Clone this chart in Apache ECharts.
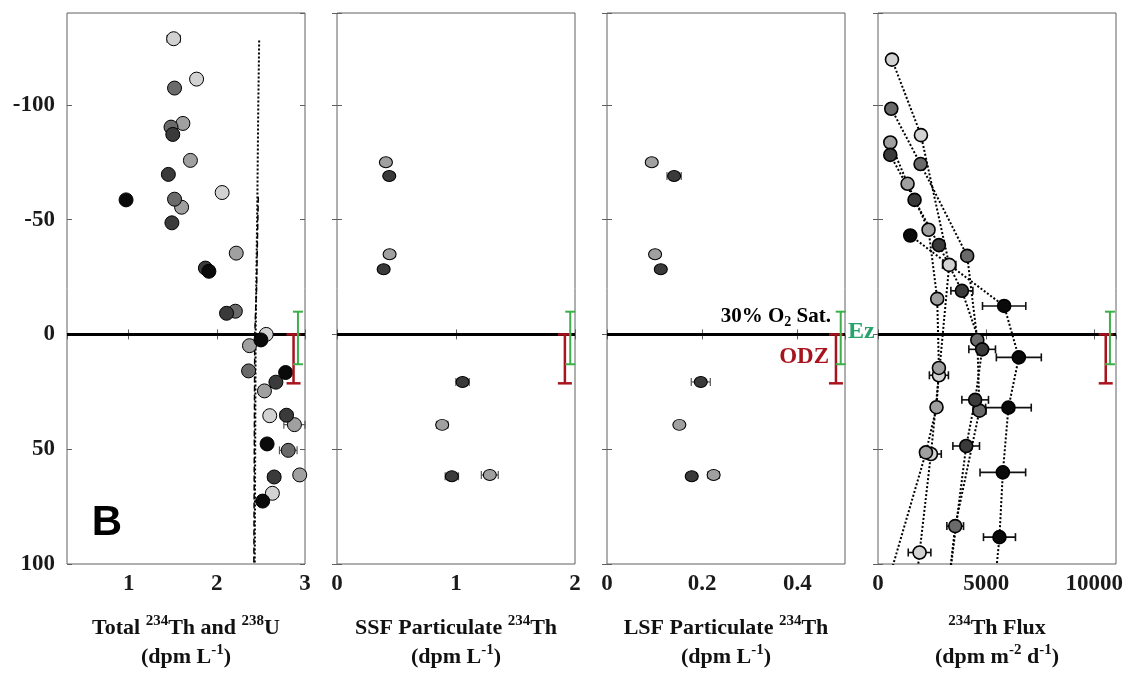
<!DOCTYPE html>
<html>
<head>
<meta charset="utf-8">
<script src="https://cdn.jsdelivr.net/npm/echarts@6/dist/echarts.min.js"></script>
<style>
  html, body { margin: 0; padding: 0; background: #fff; }
  #chart { width: 1128px; height: 674px; }
</style>
</head>
<body>
<div id="chart"></div>
<script>
    // values: [x, depth (m), error]
    var totBlack = [[0.97,-58.6,0.03],[1.91,-27.5,0.04],[2.50,2.4,0.03],[2.78,16.6,0.05],[2.57,47.7,0.06],[2.52,72.6,0.05]];
    var totDark = [[1.50,-87.1,0.05],[1.45,-69.7,0.04],[1.49,-48.6,0.04],[1.87,-28.9,0.05],[2.11,-9.2,0.05],[2.67,20.8,0.06],[2.79,35.2,0.07],[2.65,62.1,0.07]];
    var totMidDark = [[1.52,-107.3,0.05],[1.48,-90.3,0.05],[1.52,-58.9,0.05],[2.21,-10.1,0.06],[2.36,15.9,0.06],[2.81,50.5,0.1]];
    var totMid = [[1.615,-91.9,0.06],[1.70,-75.8,0.05],[1.60,-55.4,0.05],[2.22,-35.4,0.06],[2.37,4.9,0.06],[2.54,24.6,0.066],[2.88,39.3,0.12],[2.94,61.2,0.066]];
    var totLight = [[1.51,-128.8,0.075],[1.77,-111.2,0.06],[2.06,-61.8,0.06],[2.56,0.0,0.05],[2.60,35.4,0.062],[2.63,69.2,0.066]];
    var uLineA = [[2.48,-128],[2.47,-100],[2.46,-60],[2.44,0],[2.43,100]];
    var uLineB = [[2.47,-60],[2.45,-20],[2.43,0],[2.42,100]];

    var ssfDark = [[0.439,-69.0,0.02],[0.392,-28.4,0.02],[1.055,20.7,0.056],[0.965,61.8,0.056]];
    var ssfMid = [[0.411,-75.0,0.02],[0.442,-34.9,0.025],[0.884,39.4,0.048],[1.284,61.2,0.071]];

    var lsfDark = [[0.141,-69.0,0.015],[0.113,-28.4,0.007],[0.197,20.7,0.02],[0.178,61.8,0.01]];
    var lsfMid = [[0.094,-75.0,0.007],[0.101,-34.9,0.008],[0.152,39.4,0.01],[0.224,61.2,0.012]];

    var fluxBlack = [[1491,-43.1,120],[5830,-12.4,1000],[6509,10,1039],[6029,31.9,1054],[5770,60.1,1054],[5614,88.3,739]];
    var fluxDark = [[568,-78.2,60],[1690,-58.6,80],[2816,-38.9,100],[3877,-19.0,508],[4814,6.5,615],[4491,28.5,615],[4076,48.6,615]];
    var fluxMidDark = [[614,-98.3,50],[1967,-74.2,80],[4122,-34.2,185],[4590,2.4,200],[4690,33.2,300],[3568,83.5,385]];
    var fluxMid = [[568,-83.6,50],[1367,-65.6,60],[2336,-45.6,80],[2737,-15.5,100],[2815,14.6,150],[2705,31.7,180],[2215,51.4,250]];
    var fluxLight = [[646,-119.7,60],[1985,-86.8,80],[3291,-30.3,308],[2815,17.8,440],[2446,52.1,478],[1921,95,523]];
    // profile lines continue below the plotted depth range
    var fluxTails = [[5390,110],[3250,110],[3250,110],[400,110],[1740,110]];

    // ODZ and Ez depth ranges: [x, top, bottom]
    var odzBars = [[2.87,0,21.3],[1.915,0,21.3],[0.481,0,21.3],[10525,0,21.3]];
    var ezBars = [[2.92,-9.9,13],[1.96,-9.9,13],[0.491,-9.9,13],[10720,-9.9,13]];

    var xMins = [0.3, 0, 0, 0];
    var xMaxs = [3, 2, 0.5, 11000];
    var xIntervals = [null, 1, 0.2, 5000];
    var depthMin = -140, depthMax = 100;

    var FONT = '"Liberation Serif", "Times New Roman", serif';
    var SHADE = {black: '#0a0a0a', dark: '#3a3a3a', midDark: '#6a6a6a', mid: '#a0a0a0', light: '#d2d2d2'};
    var lefts = [67, 337, 607, 878];
    var W = 238, TOP = 13, H = 551;

    var grids = [], xAxes = [], yAxes = [], series = [];
    for (var i = 0; i < 4; i++) {
        grids.push({left: lefts[i], top: TOP, width: W, height: H, show: true,
            borderColor: '#606060', borderWidth: 1, backgroundColor: '#fff'});
        var xa = {gridIndex: i, type: 'value', min: xMins[i], max: xMaxs[i], position: 'bottom',
            axisLine: {show: false}, splitLine: {show: false},
            axisTick: {inside: true, length: 5, lineStyle: {color: '#606060'}},
            axisLabel: {show: true, margin: 9, fontFamily: FONT, fontWeight: 'bold', fontSize: 23, color: '#1a1a1a',
                showMinLabel: i > 0, showMaxLabel: i < 2,
                formatter: function (v) { return String(v); }}};
        if (xIntervals[i] !== null) { xa.interval = xIntervals[i]; }
        else {
            xa.splitNumber = 3;
            xa.axisLabel.formatter = function (v) { return Math.abs(v - Math.round(v)) < 1e-6 ? String(Math.round(v)) : ''; };
        }
        xAxes.push(xa);
        yAxes.push({gridIndex: i, type: 'value', inverse: true, min: depthMin, max: depthMax, splitNumber: 5,
            position: 'left', axisLine: {show: false}, splitLine: {show: false},
            axisTick: {inside: true, length: 5, lineStyle: {color: '#606060'}},
            axisLabel: {show: i === 0, margin: 12, fontFamily: FONT, fontWeight: 'bold', fontSize: 23, color: '#1a1a1a',
                showMinLabel: false,
                formatter: function (v) { return v % 50 === 0 ? String(v) : ''; }}});
    }
    for (var j = 0; j < 4; j++) {
        var xt = {gridIndex: j, type: 'value', min: xMins[j], max: xMaxs[j], position: 'top',
            axisLine: {show: false}, splitLine: {show: false}, axisLabel: {show: false},
            axisTick: {inside: true, length: 5, lineStyle: {color: '#606060'}}};
        if (xIntervals[j] !== null) { xt.interval = xIntervals[j]; } else { xt.splitNumber = 3; }
        xAxes.push(xt);
        yAxes.push({gridIndex: j, type: 'value', inverse: true, min: depthMin, max: depthMax, splitNumber: 5,
            position: 'right', axisLine: {show: false}, splitLine: {show: false}, axisLabel: {show: false},
            axisTick: {inside: true, length: 5, lineStyle: {color: '#606060'}}});
    }

    function pts(data) { return data.map(function (d) { return [d[0], d[1]]; }); }

    function scatter(i, data, color, size, bw) {
        return {type: 'scatter', xAxisIndex: i, yAxisIndex: i, data: pts(data), symbolSize: size,
            itemStyle: {color: color, borderColor: '#000', borderWidth: bw, opacity: 1}, z: 5, silent: true};
    }

    function errBars(i, data, color, w) {
        return {type: 'custom', xAxisIndex: i, yAxisIndex: i, data: data, z: 4, silent: true,
            encode: {x: 0, y: 1},
            renderItem: function (params, api) {
                var x = api.value(0), y = api.value(1), e = api.value(2);
                var a = api.coord([x - e, y]), b = api.coord([x + e, y]), h = 4;
                var st = {stroke: color, lineWidth: w};
                return {type: 'group', children: [
                    {type: 'line', shape: {x1: a[0], y1: a[1], x2: b[0], y2: b[1]}, style: st},
                    {type: 'line', shape: {x1: a[0], y1: a[1] - h, x2: a[0], y2: a[1] + h}, style: st},
                    {type: 'line', shape: {x1: b[0], y1: b[1] - h, x2: b[0], y2: b[1] + h}, style: st}
                ]};
            }};
    }

    function rangeBar(i, bar, color, w, cw) {
        return {type: 'custom', xAxisIndex: i, yAxisIndex: i, data: [bar], z: 6, silent: true,
            encode: {x: 0, y: 1},
            renderItem: function (params, api) {
                var x = api.value(0);
                var a = api.coord([x, api.value(1)]), b = api.coord([x, api.value(2)]);
                var st = {stroke: color, lineWidth: w};
                return {type: 'group', children: [
                    {type: 'line', shape: {x1: a[0], y1: a[1], x2: b[0], y2: b[1]}, style: st},
                    {type: 'line', shape: {x1: a[0] - cw, y1: a[1], x2: a[0] + cw, y2: a[1]}, style: st},
                    {type: 'line', shape: {x1: b[0] - cw, y1: b[1], x2: b[0] + cw, y2: b[1]}, style: st}
                ]};
            }};
    }

    function line(i, data, width, type) {
        return {type: 'line', xAxisIndex: i, yAxisIndex: i, data: data, symbol: 'none', z: 2, silent: true,
            clip: true, lineStyle: {color: '#000', width: width, type: type}};
    }

    // zero line (30% O2 saturation) in every panel
    for (var k = 0; k < 4; k++) {
        series.push(line(k, [[xMins[k], 0], [xMaxs[k], 0]], 3, 'solid'));
    }

    // panel 1: total 234Th and 238U
    series.push(line(0, uLineA, 2, 'dotted'));
    series.push(line(0, uLineB, 1.5, 'dashed'));
    [[totLight, 'light'], [totMid, 'mid'], [totMidDark, 'midDark'], [totDark, 'dark'], [totBlack, 'black']].forEach(function (s) {
        series.push(errBars(0, s[0], '#555', 1.2));
        series.push(scatter(0, s[0], SHADE[s[1]], 14, 1));
    });

    // panel 2 and 3: particulate 234Th
    [[ssfMid, 'mid'], [ssfDark, 'dark']].forEach(function (s) {
        series.push(errBars(1, s[0], '#555', 1.2));
        series.push(scatter(1, s[0], SHADE[s[1]], [13, 11], 1));
    });
    [[lsfMid, 'mid'], [lsfDark, 'dark']].forEach(function (s) {
        series.push(errBars(2, s[0], '#555', 1.2));
        series.push(scatter(2, s[0], SHADE[s[1]], [13, 11], 1));
    });

    // panel 4: 234Th flux profiles
    [[fluxBlack, 'black'], [fluxDark, 'dark'], [fluxMidDark, 'midDark'], [fluxMid, 'mid'], [fluxLight, 'light']].forEach(function (s, n) {
        series.push(line(3, pts(s[0]).concat([fluxTails[n]]), 2, 'dotted'));
    });
    [[fluxLight, 'light'], [fluxMid, 'mid'], [fluxMidDark, 'midDark'], [fluxDark, 'dark'], [fluxBlack, 'black']].forEach(function (s) {
        series.push(errBars(3, s[0], '#111', 1.6));
        series.push(scatter(3, s[0], SHADE[s[1]], 13, 1.6));
    });

    for (var m = 0; m < 4; m++) {
        series.push(rangeBar(m, odzBars[m], '#a8141e', 2.5, 7));
        series.push(rangeBar(m, ezBars[m], '#3bb04a', 2, 5));
    }

    var rich = {
        b: {fontFamily: FONT, fontWeight: 'bold', fontSize: 22, lineHeight: 28, fill: '#111'},
        s: {fontFamily: FONT, fontWeight: 'bold', fontSize: 15, lineHeight: 16, verticalAlign: 'top', fill: '#111'}
    };
    var titles = [
        ['{b|Total }{s|234}{b|Th and }{s|238}{b|U}', '{b|(dpm L}{s|-1}{b|)}'],
        ['{b|SSF Particulate }{s|234}{b|Th}', '{b|(dpm L}{s|-1}{b|)}'],
        ['{b|LSF Particulate }{s|234}{b|Th}', '{b|(dpm L}{s|-1}{b|)}'],
        ['{s|234}{b|Th Flux}', '{b|(dpm m}{s|-2}{b| d}{s|-1}{b|)}']
    ];
    var graphic = [];
    titles.forEach(function (t, n) {
        var cx = lefts[n] + W / 2;
        graphic.push({type: 'text', x: cx, y: 628, z: 10, style: {text: t[0], rich: rich, align: 'center', verticalAlign: 'middle'}});
        graphic.push({type: 'text', x: cx, y: 657, z: 10, style: {text: t[1], rich: rich, align: 'center', verticalAlign: 'middle'}});
    });
    graphic.push({type: 'text', x: 107, y: 523, z: 10, style: {text: 'B', fontFamily: '"Liberation Sans", Arial, sans-serif',
        fontWeight: 'bold', fontSize: 42, fill: '#000', align: 'center', verticalAlign: 'middle'}});
    graphic.push({type: 'text', x: 831, y: 317, z: 10, style: {text: '{t|30% O}{u|2}{t| Sat.}', align: 'right', verticalAlign: 'middle',
        rich: {t: {fontFamily: FONT, fontWeight: 'bold', fontSize: 21, lineHeight: 24, fill: '#000'},
               u: {fontFamily: FONT, fontWeight: 'bold', fontSize: 14, lineHeight: 14, verticalAlign: 'bottom', fill: '#000'}}}});
    graphic.push({type: 'text', x: 848, y: 332, z: 10, style: {text: 'Ez', fontFamily: FONT, fontWeight: 'bold', fontSize: 24,
        fill: '#27a36c', align: 'left', verticalAlign: 'middle'}});
    graphic.push({type: 'text', x: 829, y: 357, z: 10, style: {text: 'ODZ', fontFamily: FONT, fontWeight: 'bold', fontSize: 23,
        fill: '#a8141e', align: 'right', verticalAlign: 'middle'}});

    var myChart = echarts.init(document.getElementById('chart'), null, {renderer: 'canvas'});
    var option = {
        animation: false,
        backgroundColor: '#fff',
        grid: grids,
        xAxis: xAxes,
        yAxis: yAxes,
        series: series,
        graphic: graphic
    };
    myChart.setOption(option);
</script>
</body>
</html>
